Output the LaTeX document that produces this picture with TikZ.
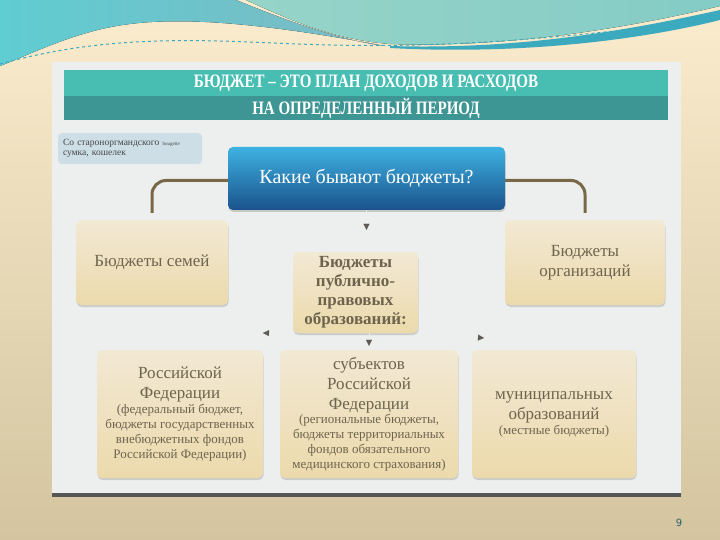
\documentclass[tikz,border=0pt]{standalone}
\usepackage{fontspec}
\setmainfont{Liberation Serif}
\setsansfont{DejaVu Sans}
\usepackage{xcolor}
\usetikzlibrary{positioning,arrows.meta,shadows}

\definecolor{sand}{RGB}{212,197,160}
\definecolor{cream}{RGB}{250,236,205}
\definecolor{tealA}{RGB}{95,205,210}
\definecolor{tealB}{RGB}{125,185,195}
\definecolor{tealC}{RGB}{150,212,200}
\definecolor{tealD}{RGB}{60,170,190}
\definecolor{panel}{RGB}{236,239,237}
\definecolor{panelline}{RGB}{85,85,85}
\definecolor{titleA}{RGB}{72,190,178}
\definecolor{titleB}{RGB}{62,150,148}
\definecolor{notefill}{RGB}{205,222,230}
\definecolor{notetext}{RGB}{70,70,70}
\definecolor{qtop}{RGB}{62,178,226}
\definecolor{qbot}{RGB}{26,82,140}
\definecolor{boxtop}{RGB}{242,233,212}
\definecolor{boxbot}{RGB}{236,218,172}
\definecolor{boxtext}{RGB}{110,100,78}
\definecolor{linkbrown}{RGB}{120,104,72}
\definecolor{tipgray}{RGB}{95,90,85}
\definecolor{pagenum}{RGB}{40,95,105}

\newcommand{\bigtxt}{\fontsize{17}{20}\selectfont}
\newcommand{\smalltxt}{\fontsize{13}{14.8}\selectfont}

\begin{document}
\begin{tikzpicture}[x=1pt, y=-1pt,
    box/.style={rounded corners=5pt, top color=boxtop, bottom color=boxbot,
        text=boxtext, align=center, inner sep=2pt,
        drop shadow={opacity=0.3, shadow xshift=0.5pt, shadow yshift=-2pt}},
    band/.style={minimum width=604pt, inner sep=0pt, text=white,
        font=\fontsize{19}{21}\selectfont\bfseries\addfontfeatures{FakeStretch=0.79}},
    link/.style={draw=linkbrown, line width=3pt, rounded corners=14pt},
    tip/.style={draw=panel, line width=0.2pt,
        -{Triangle[length=6pt, width=6pt, color=tipgray]}}]
    \useasboundingbox (0,0) rectangle (720,540);

    % Background and waves
    \fill[top color=cream, bottom color=sand] (0,0) rectangle (720,540);
    \fill[left color=tealA, right color=tealB] (0,0) -- (236,0)
        .. controls (290,22) and (340,40) .. (385,46)
        .. controls (300,30) and (200,15) .. (130,24)
        .. controls (80,30) and (40,50) .. (0,66) -- cycle;
    \fill[left color=tealC, right color=tealC!80!tealD] (246,0)
        .. controls (300,25) and (340,40) .. (390,44)
        .. controls (500,48) and (620,30) .. (720,6) -- (720,0) -- cycle;
    \fill[tealD] (390,46) .. controls (520,50) and (630,30) .. (720,10)
        -- (720,20) .. controls (640,40) and (520,55) .. (390,48) -- cycle;
    \draw[tealD, dashed, line width=1pt] (0,64) .. controls (80,42) and (150,38) .. (250,42)
        .. controls (330,45) and (450,55) .. (720,18);

    % Panel
    \fill[panel] (52,62) rectangle (681,493);
    \fill[panelline] (52,493) rectangle (681,497);

    % Title
    \node[band, fill=titleA, minimum height=26pt] (title1) at (366,83)
        {БЮДЖЕТ – ЭТО ПЛАН ДОХОДОВ И РАСХОДОВ};
    \node[band, fill=titleB, minimum height=24pt, below=0pt of title1] (title2)
        {НА ОПРЕДЕЛЕННЫЙ ПЕРИОД};

    % Note
    \node[rounded corners=4pt, fill=notefill, text=notetext, align=left,
        text width=134pt, minimum height=31pt, inner xsep=5pt, inner ysep=3pt,
        font=\fontsize{9.5}{10.5}\selectfont] (note) at (130,148.5)
        {Со староноргмандского \fontsize{5}{6}\selectfont bougette\\
        \fontsize{9.5}{10.5}\selectfont сумка, кошелек};

    % Boxes
    \node[rounded corners=5pt, top color=qtop, bottom color=qbot, text=white,
        minimum width=277pt, minimum height=63pt, font=\fontsize{20}{24}\selectfont,
        drop shadow={opacity=0.35, shadow xshift=0.5pt, shadow yshift=-2pt}] (top) at (366.5,178.5)
        {Какие бывают бюджеты?};
    \node[box, font=\bigtxt, minimum width=152pt, minimum height=85pt] (fam) at (152,262.5)
        {Бюджеты семей};
    \node[box, font=\bigtxt, minimum width=160pt, minimum height=85pt] (org) at (585,262.5)
        {Бюджеты\\организаций};
    \node[box, minimum width=125pt, minimum height=81pt,
        font=\fontsize{17}{19}\selectfont\bfseries] (pub) at (355.5,292.5)
        {Бюджеты\\публично-\\правовых\\образований:};
    \node[box, text width=162pt, minimum height=128pt] (rf) at (180,414)
        {\bigtxt Российской\\Федерации\par
        \smalltxt (федеральный бюджет,\\бюджеты государственных\\внебюджетных фондов\\Российской Федерации)\par};
    \node[box, text width=174pt, minimum height=128pt] (sub) at (369,414)
        {\bigtxt субъектов\\Российской\\Федерации\par
        \smalltxt (региональные бюджеты,\\бюджеты территориальных\\фондов обязательного\\медицинского страхования)\par};
    \node[box, text width=160pt, minimum height=128pt] (mun) at (554,414)
        {\bigtxt муниципальных\\образований\par
        \smalltxt (местные бюджеты)\par};

    % Connectors
    \draw[link, shorten >=7pt] ([yshift=-2pt]top.west) -| (fam.north);
    \draw[link, shorten >=7pt] ([yshift=-2pt]top.east) -| (org.north);

    % Arrow tips
    \coordinate (tipL) at (263,333);
    \coordinate (tipR) at (484,338);
    \draw[tip, shorten >=22pt] (top.south) -- (top.south |- pub.north);
    \draw[tip] (pub.south west) -- (tipL);
    \draw[tip] (pub.south east) -- (tipR);
    \draw[tip, shorten >=4pt] (sub.north |- pub.south) -- (sub.north);

    % Page number
    \node[text=pagenum, font=\sffamily\fontsize{10}{12}\selectfont] (page) at (679,523) {9};
\end{tikzpicture}
\end{document}
